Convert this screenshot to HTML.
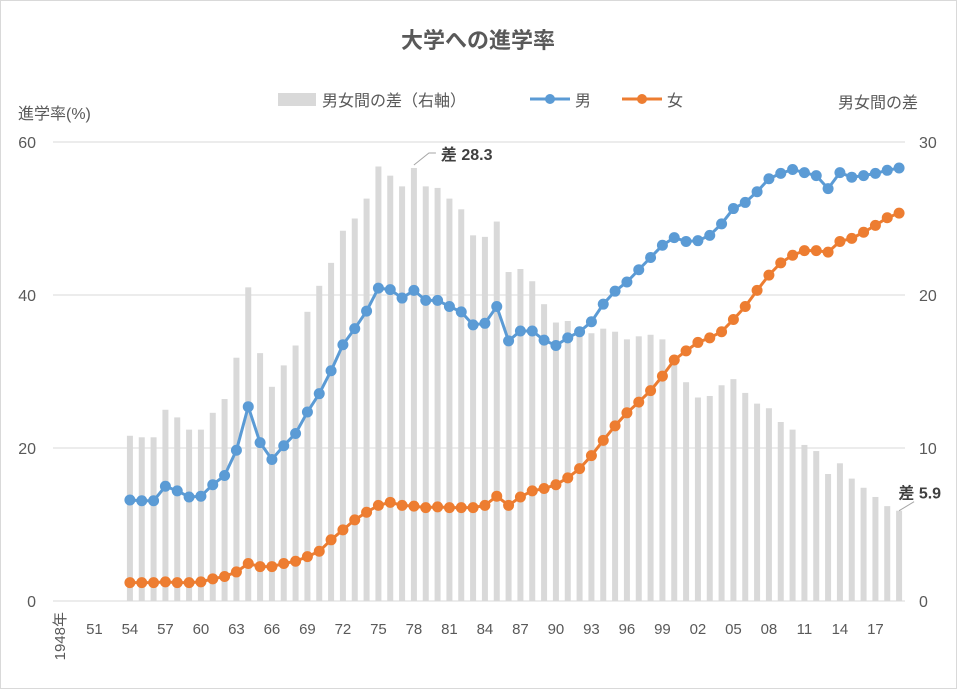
<!DOCTYPE html>
<html><head><meta charset="utf-8"><style>
body{margin:0;background:#fff;}
svg text{font-family:"Liberation Sans","Noto Sans CJK JP",sans-serif;}
</style></head><body>
<svg id="c" width="957" height="689" xmlns="http://www.w3.org/2000/svg">
<rect x="0.5" y="0.5" width="956" height="688" fill="#fff" stroke="#d9d9d9"/>
<text x="478" y="48" text-anchor="middle" font-size="22" font-weight="bold" fill="#595959">大学への進学率</text>
<g>
<rect x="278" y="93" width="38" height="13" fill="#d9d9d9"/>
<text x="322" y="106" font-size="16" fill="#595959">男女間の差（右軸）</text>
<line x1="530" y1="99" x2="570" y2="99" stroke="#5b9bd5" stroke-width="3"/>
<circle cx="550" cy="99" r="5" fill="#5b9bd5"/>
<text x="575" y="106" font-size="16" fill="#595959">男</text>
<line x1="622" y1="99" x2="662" y2="99" stroke="#ed7d31" stroke-width="3"/>
<circle cx="642" cy="99" r="5" fill="#ed7d31"/>
<text x="667" y="106" font-size="16" fill="#595959">女</text>
</g>
<text x="18" y="119" font-size="16" fill="#595959">進学率(%)</text>
<text x="838" y="108" font-size="16" fill="#595959">男女間の差</text>
<g id="grid"></g><g id="bars"></g><g id="lines"></g><g id="axes"></g>
</svg>
<script>
const years=[];for(let y=1948;y<=2019;y++)years.push(y);
const startYear=1954;
const male=[13.2,13.1,13.1,15.0,14.4,13.6,13.7,15.2,16.4,19.7,25.4,20.7,18.5,20.3,21.9,24.7,27.1,30.1,33.5,35.6,37.9,40.9,40.7,39.6,40.6,39.3,39.3,38.5,37.8,36.1,36.3,38.5,34.0,35.3,35.3,34.1,33.4,34.4,35.2,36.5,38.8,40.5,41.7,43.3,44.9,46.5,47.5,47.0,47.1,47.8,49.3,51.3,52.1,53.5,55.2,55.9,56.4,56.0,55.6,53.9,56.0,55.4,55.6,55.9,56.3,56.6];
const female=[2.4,2.4,2.4,2.5,2.4,2.4,2.5,2.9,3.2,3.8,4.9,4.5,4.5,4.9,5.2,5.8,6.5,8.0,9.3,10.6,11.6,12.5,12.9,12.5,12.4,12.2,12.3,12.2,12.2,12.2,12.5,13.7,12.5,13.6,14.4,14.7,15.2,16.1,17.3,19.0,21.0,22.9,24.6,26.0,27.5,29.4,31.5,32.7,33.8,34.4,35.2,36.8,38.5,40.6,42.6,44.2,45.2,45.8,45.8,45.6,47.0,47.4,48.2,49.1,50.1,50.7];
const gap=[10.8,10.7,10.7,12.5,12.0,11.2,11.2,12.3,13.2,15.9,20.5,16.2,14.0,15.4,16.7,18.9,20.6,22.1,24.2,25.0,26.3,28.4,27.8,27.1,28.3,27.1,27.0,26.3,25.6,23.9,23.8,24.8,21.5,21.7,20.9,19.4,18.2,18.3,17.9,17.5,17.8,17.6,17.1,17.3,17.4,17.1,16.0,14.3,13.3,13.4,14.1,14.5,13.6,12.9,12.6,11.7,11.2,10.2,9.8,8.3,9.0,8.0,7.4,6.8,6.2,5.9];
const leftTicks=[0,20,40,60];
const rightTicks=[0,10,20,30];
const xLabels=["1948年","51","54","57","60","63","66","69","72","75","78","81","84","87","90","93","96","99","02","05","08","11","14","17"];
const NS="http://www.w3.org/2000/svg";
const X0=53,X1=905,Y0=601,Y1=142;
const bw=(X1-X0)/years.length;
const xs=y=>X0+(y-1948+0.5)*bw;
const yl=v=>Y0-(v/60)*(Y0-Y1);
const yr=v=>Y0-(v/30)*(Y0-Y1);
function mk(p,t,a){const e=document.createElementNS(NS,t);for(const k in a)e.setAttribute(k,a[k]);document.getElementById(p).appendChild(e);return e;}
leftTicks.forEach((v,i)=>{
 const l=mk('grid','line',{x1:X0,x2:X1,y1:yl(v),y2:yl(v),stroke:'#d9d9d9','stroke-width':1});
 
 
 const t=mk('axes','text',{x:36,y:yl(v)+6,'text-anchor':'end','font-size':16,fill:'#595959'});t.textContent=v;
 
 
});
rightTicks.forEach(v=>{
 const t=mk('axes','text',{x:919,y:yr(v)+6,'font-size':16,fill:'#595959'});t.textContent=v;
 
 
});
xLabels.forEach((s,i)=>{
 const x=xs(1948+i*3);
 let t;
 if(i===0){t=mk('axes','text',{x:x+6,y:612,'font-size':15,fill:'#595959','text-anchor':'end',transform:`rotate(-90 ${x+6} 612)`});}
 else{t=mk('axes','text',{x:x,y:634,'font-size':15,fill:'#595959','text-anchor':'middle'});}
 t.textContent=s;
 
 
});
gap.forEach((v,i)=>{
 const x=xs(startYear+i);
 const r=mk('bars','rect',{x:x-3,y:yr(v),width:6,height:Y0-yr(v),fill:'#d9d9d9'});
 
 
});
function series(arr,col,name){
 const pts=arr.map((v,i)=>xs(startYear+i)+','+yl(v)).join(' ');
 const pl=mk('lines','polyline',{points:pts,fill:'none',stroke:col,'stroke-width':3,'stroke-linejoin':'round'});
 
 
 arr.forEach((v,i)=>{
  const c=mk('lines','circle',{cx:xs(startYear+i),cy:yl(v),r:5.5,fill:col});
  
  
 });
}
series(male,'#5b9bd5','male');
series(female,'#ed7d31','female');
// annotations
const iMax=gap.indexOf(Math.max(...gap.slice(20,30)));
const i78=1978-startYear, iLast=gap.length-1;
const ax=xs(1978), ay=yr(gap[i78]);
const l1=mk('axes','polyline',{points:`${ax},${ay-3} ${ax+15},${ay-15} ${ax+22},${ay-15}`,fill:'none',stroke:'#a6a6a6'});


const t1=mk('axes','text',{x:ax+27,y:ay-8,'font-size':16,'font-weight':'bold',fill:'#404040'});t1.textContent='差 '+gap[i78].toFixed(1);


const bx=xs(2019), by=yr(gap[iLast]);
const l2=mk('axes','line',{x1:bx,y1:by,x2:bx+15,y2:by-9,stroke:'#a6a6a6'});


const t2=mk('axes','text',{x:bx+42,y:by-12,'text-anchor':'end','font-size':16,'font-weight':'bold',fill:'#404040'});t2.textContent='差 '+gap[iLast].toFixed(1);


</script>
</body></html>
